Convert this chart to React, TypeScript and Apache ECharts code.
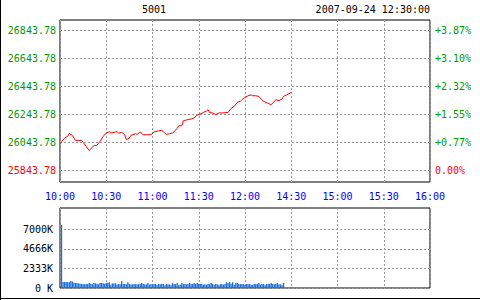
import React, { useEffect, useRef } from 'react';
import * as echarts from 'echarts';

const prevClose = 25843.78;
const priceTicks = [25843.78, 26043.78, 26243.78, 26443.78, 26643.78, 26843.78];
const priceMin = 25758.07;
const priceMax = 26915.21;
const timeLabels = ['10:00', '10:30', '11:00', '11:30', '12:00', '14:30', '15:00', '15:30', '16:00'];
const titleText = '5001';
const dateText = '2007-09-24 12:30:00';

const minutes = [0, 3, 5, 6, 8, 10, 12, 14, 15, 17, 19, 20, 22, 24, 26, 28, 30, 32, 33, 36, 37, 38, 40, 42, 43, 45, 46, 49, 50, 52, 54, 56, 59, 61, 64, 66, 68, 69, 71, 73, 74, 76, 77, 79, 80, 82, 85, 87, 89, 91, 93, 95, 96, 97, 99, 101, 103, 105, 109, 111, 113, 115, 117, 118, 120, 122, 124, 125, 127, 129, 131, 132, 135, 137, 138, 140, 142, 144, 145, 147, 150];
const prices = [
  26030, 26072, 26084, 26105, 26091, 26055, 26055, 26055, 26041, 26012,
  25982, 25996, 26017, 26022, 26048, 26084, 26108, 26117, 26108, 26115,
  26117, 26108, 26112, 26096, 26060, 26072, 26091, 26103, 26098, 26115,
  26096, 26096, 26096, 26115, 26124, 26127, 26108, 26098, 26103, 26108,
  26117, 26141, 26160, 26160, 26196, 26201, 26208, 26215, 26237, 26244,
  26255, 26265, 26275, 26255, 26251, 26239, 26251, 26251, 26255, 26284,
  26298, 26327, 26334, 26346, 26362, 26374, 26380, 26374, 26374, 26369,
  26346, 26334, 26320, 26310, 26322, 26346, 26339, 26351, 26370, 26380,
  26398,
];

// volume in K, one bar per minute starting at minute 1
const volumes = [
  7500, 710, 700, 720, 710, 690, 830, 760, 640, 600,
  590, 560, 510, 480, 470, 460, 470, 480, 590, 520,
  430, 590, 550, 510, 440, 590, 600, 560, 510, 590,
  620, 670, 400, 550, 540, 560, 430, 470, 460, 830,
  470, 480, 440, 670, 470, 420, 440, 470, 460, 435,
  440, 510, 590, 470, 440, 430, 590, 400, 470, 460,
  470, 470, 320, 470, 460, 470, 470, 310, 470, 440,
  435, 320, 590, 470, 460,
  590, 320, 400, 590, 435, 470, 435, 470, 590, 470,
  470, 590, 470, 590, 470, 470, 470, 400, 435, 400,
  470, 470, 590, 470, 400, 470, 435, 320, 435, 470,
  400, 470, 670, 590, 710, 510, 670, 400, 590, 590,
  470, 470, 470, 470, 400, 470, 470, 470, 400, 400,
  470, 470, 470, 590, 400, 470, 470, 320, 470, 470,
  470, 590, 470, 435, 470, 590, 435, 435, 320, 590,
];
const volTicks = [0, 2333, 4666, 7000];
const volMax = 9525;

const FONT = 'DejaVu Sans Mono';
const GREEN = '#009c00';
const RED = '#ff0000';
const BLUE = '#0000ff';

export default function App() {
  const ref = useRef<HTMLDivElement>(null);
  useEffect(() => {
    if (!ref.current) return;
    const chart = echarts.init(ref.current, undefined, { renderer: 'svg' });
    const dashed = { show: true, lineStyle: { color: '#999', type: [2, 2] as any, width: 1 } };
    const isBase = (v: number) => Math.abs(v - prevClose) < 0.01;
    const option: any = {
      animation: false,
      backgroundColor: '#fff',
      grid: [
        { left: 60, top: 20, width: 370, height: 162, show: true, borderColor: '#000', borderWidth: 1, backgroundColor: 'transparent' },
        { left: 60, top: 208, width: 370, height: 80, show: true, borderColor: '#000', borderWidth: 1, backgroundColor: 'transparent' },
      ],
      xAxis: [
        {
          gridIndex: 0, type: 'value', min: 0, max: 240, interval: 30,
          axisLine: { show: false }, axisTick: { show: false },
          axisLabel: { formatter: (v: number) => timeLabels[Math.round(v / 30)], color: BLUE, fontFamily: FONT, fontSize: 10, margin: 9 },
          splitLine: dashed,
        },
        {
          gridIndex: 1, type: 'value', min: 0, max: 240, interval: 30,
          axisLine: { show: false }, axisTick: { show: false },
          axisLabel: { show: false },
          splitLine: dashed,
        },
      ],
      yAxis: [
        {
          gridIndex: 0, type: 'value', min: priceMin, max: priceMax,
          axisLine: { show: false },
          axisTick: { show: false, customValues: priceTicks },
          axisLabel: {
            customValues: priceTicks,
            formatter: (v: number) => v.toFixed(2),
            color: (v: any) => (isBase(Number(v)) ? RED : GREEN),
            fontFamily: FONT, fontSize: 10, margin: 4,
          },
          splitLine: dashed,
        },
        {
          gridIndex: 0, type: 'value', min: priceMin, max: priceMax, position: 'right',
          axisLine: { show: false },
          axisTick: { show: false, customValues: priceTicks },
          axisLabel: {
            customValues: priceTicks,
            formatter: (v: number) => {
              const p = ((v - prevClose) / prevClose) * 100;
              return isBase(v) ? '0.00%' : '+' + p.toFixed(2) + '%';
            },
            color: (v: any) => (isBase(Number(v)) ? RED : GREEN),
            fontFamily: FONT, fontSize: 10, margin: 5,
          },
          splitLine: { show: false },
        },
        {
          gridIndex: 1, type: 'value', min: 0, max: volMax,
          axisLine: { show: false },
          axisTick: { show: false, customValues: volTicks },
          axisLabel: {
            customValues: volTicks,
            formatter: (v: number) => (v === 0 ? '0 K' : Math.round(v) + 'K'),
            color: '#000', fontFamily: FONT, fontSize: 10, margin: 7,
          },
          splitLine: dashed,
        },
      ],
      series: [
        {
          type: 'line', xAxisIndex: 0, yAxisIndex: 0,
          data: minutes.map((m, i) => [m, prices[i]]),
          showSymbol: false, symbol: 'none',
          lineStyle: { color: RED, width: 1 },
          z: 5,
        },
        {
          type: 'bar', xAxisIndex: 1, yAxisIndex: 2,
          data: volumes.map((v, i) => [i + 1, v]),
          barWidth: 1.3,
          itemStyle: { color: '#1a6fdc' },
          z: 5,
        },
      ],
      graphic: [
        { type: 'text', left: 142, top: 4, style: { text: titleText, fill: '#000', font: `10px "${FONT}"` } },
        { type: 'text', right: 50, top: 4, style: { text: dateText, fill: '#000', font: `10px "${FONT}"` } },
        { type: 'line', shape: { x1: 0.5, y1: 0, x2: 0.5, y2: 300 }, style: { stroke: '#000', lineWidth: 1 } },
        { type: 'line', shape: { x1: 0, y1: 298.5, x2: 480, y2: 298.5 }, style: { stroke: '#000', lineWidth: 1 } },
      ],
    };
    chart.setOption(option);
    return () => chart.dispose();
  }, []);
  return <div ref={ref} style={{ position: 'fixed', left: 0, top: 0, width: 480, height: 300 }} />;
}
